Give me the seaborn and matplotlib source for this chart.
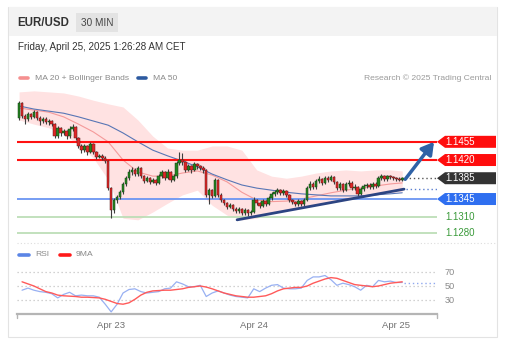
import numpy as np
import pandas as pd
import matplotlib
matplotlib.use("Agg")
import matplotlib.pyplot as plt
import seaborn as sns
from matplotlib.patches import Rectangle, Polygon
import matplotlib.transforms as mtransforms

# ---------------- data ----------------
first_open = 1.1501
close = [1.1530, 1.1505, 1.1499, 1.1508, 1.1503, 1.1512, 1.1501, 1.1495, 1.1499, 1.1493,
         1.1495, 1.1489, 1.1466, 1.1482, 1.1472, 1.1476, 1.1466, 1.1480, 1.1483, 1.1462,
         1.1447, 1.1439, 1.1447, 1.1435, 1.1451, 1.1435, 1.1426, 1.1428, 1.1424, 1.1418,
         1.1366, 1.1324, 1.1343, 1.1349, 1.1358, 1.1374, 1.1385, 1.1397, 1.1401, 1.1393,
         1.1405, 1.1389, 1.1380, 1.1385, 1.1378, 1.1382, 1.1376, 1.1389, 1.1397, 1.1385,
         1.1397, 1.1382, 1.1389, 1.1414, 1.1420, 1.1416, 1.1401, 1.1408, 1.1401, 1.1412,
         1.1408, 1.1405, 1.1401, 1.1353, 1.1362, 1.1351, 1.1382, 1.1353, 1.1343, 1.1337,
         1.1330, 1.1333, 1.1326, 1.1322, 1.1326, 1.1318, 1.1324, 1.1318, 1.1320, 1.1343,
         1.1337, 1.1332, 1.1341, 1.1335, 1.1347, 1.1355, 1.1358, 1.1362, 1.1357, 1.1360,
         1.1353, 1.1343, 1.1340, 1.1335, 1.1341, 1.1335, 1.1343, 1.1366, 1.1374, 1.1368,
         1.1380, 1.1383, 1.1376, 1.1385, 1.1382, 1.1387, 1.1378, 1.1366, 1.1374, 1.1362,
         1.1374, 1.1376, 1.1366, 1.1368, 1.1355, 1.1364, 1.1370, 1.1372, 1.1368, 1.1374,
         1.1370, 1.1385, 1.1389, 1.1383, 1.1389, 1.1387, 1.1385, 1.1383, 1.1382, 1.1385]
high = [1.1534, 1.1531, 1.1509, 1.1512, 1.1511, 1.1516, 1.1514, 1.1504, 1.1503, 1.1502,
        1.1499, 1.1497, 1.1491, 1.1486, 1.1484, 1.1480, 1.1478, 1.1485, 1.1490, 1.1485,
        1.1464, 1.1450, 1.1451, 1.1449, 1.1455, 1.1453, 1.1438, 1.1432, 1.1431, 1.1427,
        1.1420, 1.1368, 1.1347, 1.1353, 1.1362, 1.1378, 1.1390, 1.1402, 1.1406, 1.1404,
        1.1409, 1.1407, 1.1392, 1.1389, 1.1388, 1.1386, 1.1384, 1.1393, 1.1401, 1.1399,
        1.1402, 1.1399, 1.1393, 1.1418, 1.1435, 1.1433, 1.1418, 1.1413, 1.1411, 1.1416,
        1.1415, 1.1411, 1.1408, 1.1403, 1.1366, 1.1365, 1.1386, 1.1384, 1.1356, 1.1346,
        1.1340, 1.1337, 1.1336, 1.1329, 1.1330, 1.1328, 1.1328, 1.1326, 1.1324, 1.1348,
        1.1346, 1.1340, 1.1345, 1.1343, 1.1351, 1.1359, 1.1363, 1.1367, 1.1365, 1.1364,
        1.1362, 1.1355, 1.1346, 1.1342, 1.1345, 1.1343, 1.1347, 1.1370, 1.1379, 1.1377,
        1.1384, 1.1389, 1.1386, 1.1390, 1.1389, 1.1391, 1.1389, 1.1380, 1.1378, 1.1376,
        1.1378, 1.1381, 1.1379, 1.1373, 1.1371, 1.1368, 1.1374, 1.1376, 1.1375, 1.1378,
        1.1377, 1.1389, 1.1393, 1.1391, 1.1392, 1.1392, 1.1390, 1.1388, 1.1387, 1.1387]
low = [1.1497, 1.1500, 1.1490, 1.1496, 1.1498, 1.1500, 1.1497, 1.1488, 1.1491, 1.1489,
       1.1488, 1.1485, 1.1462, 1.1463, 1.1467, 1.1468, 1.1460, 1.1463, 1.1476, 1.1458,
       1.1443, 1.1434, 1.1436, 1.1430, 1.1433, 1.1431, 1.1422, 1.1423, 1.1420, 1.1414,
       1.1362, 1.1309, 1.1318, 1.1338, 1.1345, 1.1355, 1.1370, 1.1382, 1.1392, 1.1389,
       1.1390, 1.1385, 1.1375, 1.1377, 1.1374, 1.1375, 1.1372, 1.1373, 1.1386, 1.1381,
       1.1383, 1.1378, 1.1379, 1.1386, 1.1410, 1.1411, 1.1397, 1.1398, 1.1396, 1.1398,
       1.1403, 1.1400, 1.1396, 1.1348, 1.1335, 1.1347, 1.1349, 1.1349, 1.1339, 1.1333,
       1.1326, 1.1327, 1.1322, 1.1318, 1.1319, 1.1314, 1.1315, 1.1313, 1.1315, 1.1318,
       1.1333, 1.1328, 1.1329, 1.1331, 1.1333, 1.1344, 1.1351, 1.1354, 1.1353, 1.1353,
       1.1349, 1.1339, 1.1336, 1.1331, 1.1332, 1.1331, 1.1332, 1.1341, 1.1362, 1.1364,
       1.1365, 1.1376, 1.1372, 1.1373, 1.1378, 1.1379, 1.1374, 1.1362, 1.1363, 1.1358,
       1.1360, 1.1370, 1.1362, 1.1363, 1.1351, 1.1352, 1.1361, 1.1366, 1.1364, 1.1365,
       1.1366, 1.1368, 1.1381, 1.1379, 1.1380, 1.1383, 1.1381, 1.1380, 1.1379, 1.1380]

band_idx = [0, 5, 10, 15, 20, 25, 30, 35, 40, 45, 50, 55, 60, 65, 70, 75, 80, 85, 90,
            95, 100, 105, 110, 115, 120, 125, 129]
bb_upper = [1.1551, 1.1553, 1.1551, 1.1549, 1.1543, 1.1535, 1.1528, 1.1522, 1.1497, 1.1466,
            1.1443, 1.1439, 1.1439, 1.1447, 1.1447, 1.1439, 1.1401, 1.1389, 1.1385, 1.1389,
            1.1395, 1.1399, 1.1401, 1.1399, 1.1401, 1.1401, 1.1399]
bb_lower = [1.1497, 1.1489, 1.1482, 1.1470, 1.1449, 1.1424, 1.1382, 1.1308, 1.1305, 1.1320,
            1.1337, 1.1353, 1.1362, 1.1333, 1.1314, 1.1305, 1.1308, 1.1318, 1.1324, 1.1330,
            1.1335, 1.1341, 1.1345, 1.1349, 1.1353, 1.1357, 1.1360]
ma20 = [1.1520, 1.1516, 1.1512, 1.1503, 1.1489, 1.1474, 1.1455, 1.1420, 1.1397, 1.1389,
        1.1389, 1.1395, 1.1399, 1.1391, 1.1378, 1.1358, 1.1343, 1.1340, 1.1341, 1.1345,
        1.1351, 1.1357, 1.1362, 1.1366, 1.1370, 1.1374, 1.1376]
ma50 = [1.1524, 1.1518, 1.1514, 1.1510, 1.1503, 1.1495, 1.1487, 1.1472, 1.1455, 1.1439,
        1.1428, 1.1418, 1.1407, 1.1393, 1.1382, 1.1372, 1.1366, 1.1362, 1.1358, 1.1355,
        1.1353, 1.1351, 1.1351, 1.1351, 1.1353, 1.1355, 1.1357]

rsi_idx = list(range(1, 130, 2))
rsi = [44, 47, 44, 42, 41, 39, 33, 38, 41, 36, 37, 36, 36, 34, 24, 13, 24, 40, 45, 46,
       42, 40, 41, 42, 46, 47, 56, 53, 49, 49, 51, 35, 40, 43, 40, 37, 35, 34, 33, 46,
       42, 47, 51, 52, 47, 46, 46, 47, 58, 63, 63, 65, 59, 51, 54, 52, 49, 44, 51, 49,
       58, 56, 57, 55, 55]
rsi_ma9 = [56, 53, 50, 46, 42, 40, 37, 36, 35.5, 35, 34, 34, 33.5, 33, 31, 28, 25, 24, 26, 31,
           37, 41, 43, 43.5, 44, 44, 45, 46, 48, 49, 50, 48.5, 46, 43, 40, 38, 36, 35, 34, 34,
           35, 36, 39, 43, 46, 47, 48, 48, 50, 54, 57, 60, 62, 61, 58, 55, 52, 51, 50, 49,
           50, 52, 54, 55, 56]

resist_levels = [1.1455, 1.1420]
last_price = 1.1385
pivot_level = 1.1345
support_levels = [1.1310, 1.1280]
trend_idx = [73.4, 129.6]
trend_price = [1.1305, 1.1364]
arrow_idx = [130.0, 139.7]
arrow_price = [1.1383, 1.1455]
day_idx = [31, 79, 127]
day_labels = ["Apr 23", "Apr 24", "Apr 25"]
rsi_levels = [70, 50, 30]

# ---------------- figure ----------------
sns.set_theme(style="white")
plt.rcParams['font.family'] = ['Liberation Sans', 'DejaVu Sans']

W, H = 508, 357
fig = plt.figure(figsize=(W / 100, H / 100), dpi=100)
fig.patch.set_facecolor("white")


def fx(x):
    return x / W


def fy(y):
    return 1 - y / H


# card + header
fig.patches.append(Rectangle((fx(8), fy(337)), (497 - 8) / W, (337 - 7) / H, transform=fig.transFigure,
                             fc="white", ec="#e3e3e3", lw=0.8, zorder=-3))
fig.patches.append(Rectangle((fx(8.5), fy(36)), (496.5 - 8.5) / W, 29 / H, transform=fig.transFigure,
                             fc="#f3f3f3", ec="none", zorder=-2))
fig.patches.append(Rectangle((fx(76), fy(32)), 42 / W, 19 / H, transform=fig.transFigure,
                             fc="#e3e3e3", ec="none", zorder=-1))
fig.text(fx(17), fy(22.5), "EUR/USD", fontsize=8.3, fontweight="bold", color="#333333", va="center")
fig.text(fx(97), fy(22.5), "30 MIN", fontsize=7.2, color="#444444", va="center", ha="center")
fig.text(fx(18), fy(47), "Friday, April 25, 2025 1:26:28 AM CET", fontsize=7.1, color="#333333", va="center")

# legends
fig.lines.append(plt.Line2D([fx(20), fx(28)], [fy(78), fy(78)], transform=fig.transFigure, color="#f59090", lw=2.6))
fig.text(fx(35), fy(78), "MA 20 + Bollinger Bands", fontsize=6.1, color="#8a8a8a", va="center")
fig.lines.append(plt.Line2D([fx(138), fx(146)], [fy(78), fy(78)], transform=fig.transFigure, color="#2d5aa0", lw=2.6))
fig.text(fx(153), fy(78), "MA 50", fontsize=6.1, color="#8a8a8a", va="center")
fig.text(fx(491), fy(78), "Research \u00a9 2025 Trading Central", fontsize=6.1, color="#9a9a9a", va="center", ha="right")

fig.lines.append(plt.Line2D([fx(19), fx(29)], [fy(255), fy(255)], transform=fig.transFigure, color="#5b85e6", lw=2.6))
fig.text(fx(35), fy(255), "RSI", fontsize=6.1, color="#8a8a8a", va="center")
fig.lines.append(plt.Line2D([fx(60), fx(70)], [fy(255), fy(255)], transform=fig.transFigure, color="#ff1a1a", lw=2.6))
fig.text(fx(76), fy(255), "9MA", fontsize=6.1, color="#8a8a8a", va="center")

# separator
fig.lines.append(plt.Line2D([fx(17), fx(496)], [fy(243), fy(243)], transform=fig.transFigure,
                            color="#dddddd", lw=0.8, ls=(0, (1, 2))))

# ---------------- price axes ----------------
ax = fig.add_axes([fx(17), fy(240), 420 / W, 152 / H])
ax.patch.set_alpha(0)
for s in ax.spines.values():
    s.set_visible(False)
ax.set_xticks([])
ax.set_yticks([])
xmin, xmax = -0.7, 140.7
ax.set_xlim(xmin, xmax)
ax.set_ylim(1.12662, 1.15585)

ax.fill_between(band_idx, bb_lower, bb_upper, color="#ffe2e2", lw=0, zorder=1)
sns.lineplot(x=band_idx, y=ma20, ax=ax, color="#f59a9a", lw=0.8, zorder=2)
sns.lineplot(x=band_idx, y=ma50, ax=ax, color="#5876b5", lw=0.8, zorder=2)

# levels
for lv in resist_levels:
    ax.axhline(lv, color="#ff1111", lw=1.5, zorder=3)
ax.axhline(pivot_level, color="#6b95f2", lw=1.3, zorder=3)
for lv in support_levels:
    ax.axhline(lv, color="#b7dcb2", lw=1.2, zorder=3)

# candles
n = len(close)
idx = np.arange(n)
opens = np.array([first_open] + close[:-1])
closes = np.array(close)
up = closes >= opens
ax.vlines(idx, low, high, color="#3f3f3f", lw=0.8, zorder=4)
body_bottom = np.minimum(opens, closes)
body_h = np.maximum(np.abs(closes - opens), 0.00007)
ax.bar(idx[up], body_h[up], bottom=body_bottom[up], width=0.85, color="#23841f", edgecolor="#173f17", lw=0.35, zorder=5)
ax.bar(idx[~up], body_h[~up], bottom=body_bottom[~up], width=0.85, color="#e02626", edgecolor="#5a1a1a", lw=0.35, zorder=5)

# trend line & projections
sns.lineplot(x=trend_idx, y=trend_price, ax=ax, color="#2c4482", lw=2.0, zorder=6)
ax.plot([trend_idx[1] + 0.5, xmax], [trend_price[1], trend_price[1]], color="#5b7fd0", lw=1.0, ls=(0, (1, 2)), zorder=6)
ax.plot([idx[-1] + 1, xmax], [last_price, last_price], color="#555555", lw=1.0, ls=(0, (1, 2)), zorder=6)
ax.annotate("", xy=(arrow_idx[1], arrow_price[1]), xytext=(arrow_idx[0], arrow_price[0]),
            arrowprops=dict(arrowstyle="-|>,head_length=0.6,head_width=0.35", color="#2f62a6", lw=2.5,
                            shrinkA=0, shrinkB=0), zorder=7, annotation_clip=False)

# right labels
tr = mtransforms.blended_transform_factory(ax.transAxes, ax.transData)
hh = 6 / 5200.0


def label_box(price, text, fc):
    x0, x1, x2 = 1.0, 1 + 8 / 420, 1 + 59 / 420
    poly = Polygon([(x0, price), (x1, price + hh), (x2, price + hh), (x2, price - hh), (x1, price - hh)],
                   closed=True, transform=tr, fc=fc, ec="none", clip_on=False, zorder=8)
    ax.add_patch(poly)
    ax.text(1 + 8.5 / 420, price, text, transform=tr, color="white", fontsize=7, va="center", ha="left",
            clip_on=False, zorder=9)


for lv in resist_levels:
    label_box(lv, f"{lv:.4f}", "#ff0d0d")
label_box(last_price, f"{last_price:.4f}", "#333333")
label_box(pivot_level, f"{pivot_level:.4f}", "#2f6ff0")
for lv in support_levels:
    ax.text(1 + 8.5 / 420, lv, f"{lv:.4f}", transform=tr, color="#3a9a3a", fontsize=7, va="center",
            ha="left", clip_on=False)

# ---------------- RSI axes ----------------
axr = fig.add_axes([fx(17), fy(314), 420 / W, 52 / H])
axr.patch.set_alpha(0)
for k, s in axr.spines.items():
    s.set_visible(k == "bottom")
axr.spines["bottom"].set_color("#b5b5b5")
axr.spines["bottom"].set_linewidth(1.6)
axr.set_xlim(xmin, xmax)
axr.set_ylim(10, 84.3)
axr.set_yticks([])
for lv in rsi_levels:
    axr.axhline(lv, color="#c4c4c4", lw=0.9, ls=(0, (1, 2.2)), zorder=1)
    axr.text(1 + 8 / 420, lv, str(lv), transform=mtransforms.blended_transform_factory(axr.transAxes, axr.transData),
             fontsize=6.6, color="#8a8a8a", va="center", ha="left")
sns.lineplot(x=rsi_idx, y=rsi, ax=axr, color="#98b0f2", lw=0.9, zorder=3)
sns.lineplot(x=rsi_idx, y=rsi_ma9, ax=axr, color="#ff5a5a", lw=1.0, zorder=4)
axr.plot([rsi_idx[-1] + 0.5, xmax], [rsi[-1], rsi[-1]], color="#8fa8ef", lw=1.0, ls=(0, (1, 2)), zorder=2)
axr.set_xticks(day_idx)
axr.set_xticklabels(day_labels, fontsize=6.8, color="#707070")
axr.tick_params(axis="x", length=0, pad=5)
for xe in (0.0, 1.0):
    axr.plot([xe, xe], [0, -0.08], transform=axr.transAxes, color="#b5b5b5", lw=1.0, clip_on=False)

fig.savefig("out.png", dpi=100)
